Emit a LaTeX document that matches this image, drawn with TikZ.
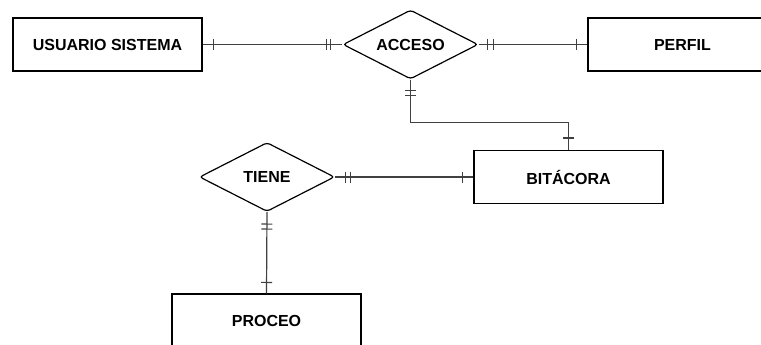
\documentclass[tikz,border=0pt]{standalone}
\usepackage{fontspec}
\setmainfont{Liberation Sans}
\usetikzlibrary{shapes.geometric,decorations.markings,calc}
\begin{document}
\begin{tikzpicture}[x=1pt, y=-1pt,
		entidad/.style={draw=black, line width=1.2pt, minimum width=189pt, minimum height=53pt, inner sep=0pt},
		relacion/.style={draw=black, line width=1.2pt, diamond, aspect=1.96, minimum width=135pt, minimum height=69pt, inner sep=0pt, rounded corners=3pt},
		enlace/.style={draw=black!75, line width=1.2pt},
		raya/.style={postaction={decorate, decoration={markings, mark=at position #1 with {\draw[black!75, line width=1.2pt] (0,-5.5) -- (0,5.5);}}}},
		font=\fontsize{16}{19}\selectfont\bfseries]
	\useasboundingbox (0,0) rectangle (761,345);
	\clip (0,0) rectangle (761,345);
	\node[entidad] (usuario) at (107.5, 44.5) {USUARIO SISTEMA};
	\node[relacion] (acceso) at (410.5, 44.5) {ACCESO};
	\node[entidad] (perfil) at (682.5, 44.5) {PERFIL};
	\node[entidad] (bitacora) at (568.5, 177) {BITÁCORA};
	\node[relacion] (tiene) at (267, 177) {TIENE};
	\node[entidad] (proceo) at (266.5, 320.5) {PROCEO};
	\draw[enlace, raya=11pt, raya=-16pt, raya=-12pt] (usuario.east) -- (acceso.west);
	\draw[enlace, raya=9pt, raya=15pt, raya=-11pt] (acceso.east) -- (perfil.west);
	\draw[enlace, raya=11pt, raya=16pt, raya=-12pt] (acceso.south) -- ++(0,43) -| (bitacora.north);
	\draw[enlace, raya=10pt, raya=15pt, raya=-11pt] (tiene.east) -- (bitacora.west);
	\draw[enlace, raya=12pt, raya=17pt, raya=-11pt] (tiene.south) -- (proceo.north);
\end{tikzpicture}
\end{document}
